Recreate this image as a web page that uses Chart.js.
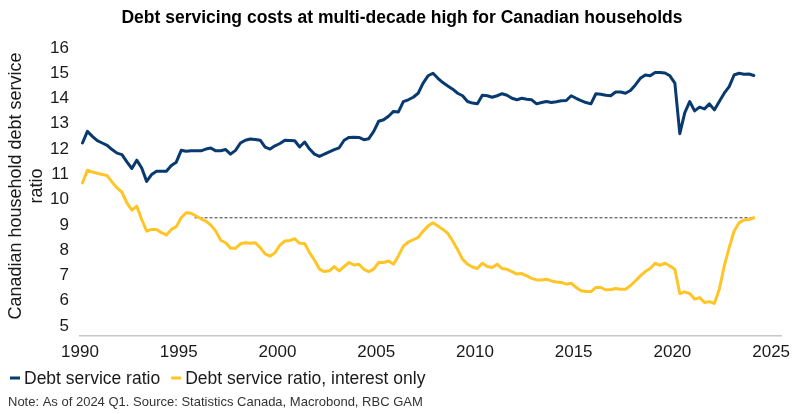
<!DOCTYPE html>
<html><head><meta charset="utf-8">
<script src="https://cdn.jsdelivr.net/npm/chart.js@4.4.1/dist/chart.umd.min.js"></script>
<style>html,body{margin:0;padding:0;background:#fff}</style>
</head><body>
<canvas id="c" width="799" height="414"></canvas>
<script>
const TITLE = 'Debt servicing costs at multi-decade high for Canadian households';
const Y_TITLE = ['Canadian household debt service', 'ratio'];
const NOTE = 'Note: As of 2024 Q1. Source: Statistics Canada, Macrobond, RBC GAM';
const SERIES_NAMES = ['Debt service ratio', 'Debt service ratio, interest only'];
const START_YEAR = 1990;            // first observation: 1990 Q1, quarterly data
const X_TICKS = [1990, 1995, 2000, 2005, 2010, 2015, 2020, 2025];
const Y_TICKS = [5, 6, 7, 8, 9, 10, 11, 12, 13, 14, 15, 16];
const REF_LINE_START = 1995.8;      // dotted line: latest interest-only level, drawn back to ~1996

const DSR = [
  12.24, 12.70, 12.50, 12.33,
  12.24, 12.15, 11.98, 11.84,
  11.78, 11.49, 11.23, 11.56,
  11.25, 10.72, 10.99, 11.12,
  11.12, 11.12, 11.35, 11.48,
  11.95, 11.91, 11.93, 11.93,
  11.93, 12.00, 12.04, 11.93,
  11.93, 11.98, 11.80, 11.95,
  12.24, 12.35, 12.40, 12.38,
  12.35, 12.08, 12.00, 12.13,
  12.22, 12.35, 12.34, 12.33,
  12.08, 12.28, 12.00, 11.80,
  11.71, 11.80, 11.89, 11.98,
  12.05, 12.35, 12.46, 12.47,
  12.46, 12.37, 12.41, 12.70,
  13.10, 13.16, 13.30, 13.49,
  13.47, 13.88, 13.95, 14.05,
  14.21, 14.61, 14.90, 15.00,
  14.80, 14.63, 14.50, 14.37,
  14.21, 14.11, 13.88, 13.82,
  13.79, 14.13, 14.11, 14.05,
  14.11, 14.19, 14.13, 14.01,
  13.95, 14.01, 13.97, 13.95,
  13.79, 13.84, 13.88, 13.84,
  13.87, 13.91, 13.92, 14.11,
  14.01, 13.92, 13.84, 13.79,
  14.19, 14.17, 14.13, 14.11,
  14.26, 14.26, 14.21, 14.32,
  14.54, 14.80, 14.93, 14.90,
  15.03, 15.03, 15.01, 14.90,
  14.61, 12.61, 13.43, 13.88,
  13.51, 13.66, 13.59, 13.79,
  13.55, 13.88, 14.21, 14.47,
  14.93, 15.00, 14.96, 14.97,
  14.91
];

const DSR_INTEREST = [
  10.66, 11.16, 11.09, 11.04,
  10.99, 10.95, 10.69, 10.46,
  10.29, 9.87, 9.58, 9.74,
  9.21, 8.75, 8.82, 8.82,
  8.69, 8.60, 8.82, 8.93,
  9.28, 9.48, 9.46, 9.35,
  9.24, 9.15, 8.99, 8.75,
  8.39, 8.29, 8.07, 8.07,
  8.25, 8.29, 8.27, 8.29,
  8.10, 7.85, 7.76, 7.90,
  8.20, 8.36, 8.38, 8.45,
  8.27, 8.26, 7.90, 7.60,
  7.25, 7.15, 7.18, 7.35,
  7.18, 7.35, 7.51, 7.41,
  7.44, 7.24, 7.15, 7.25,
  7.51, 7.51, 7.57, 7.44,
  7.77, 8.16, 8.32, 8.41,
  8.50, 8.75, 8.95, 9.08,
  8.95, 8.82, 8.66, 8.36,
  8.01, 7.64, 7.44, 7.33,
  7.27, 7.48, 7.35, 7.31,
  7.44, 7.27, 7.24, 7.15,
  7.05, 7.07, 6.98, 6.88,
  6.82, 6.82, 6.85, 6.78,
  6.74, 6.72, 6.65, 6.69,
  6.52, 6.39, 6.36, 6.36,
  6.52, 6.52, 6.43, 6.43,
  6.48, 6.45, 6.45, 6.59,
  6.78, 6.98, 7.15, 7.27,
  7.48, 7.40, 7.48, 7.37,
  7.24, 6.28, 6.35, 6.28,
  6.06, 6.12, 5.93, 5.96,
  5.89, 6.45, 7.37, 8.10,
  8.75, 9.08, 9.19, 9.21,
  9.28
];

const COLORS = { dsr: '#083A70', interest: '#FFC527', ref: '#3a3a3a', text: '#1a1a1a', axis: '#c8c8c8' };
const FONT = "'Liberation Sans', Arial, Helvetica, sans-serif";

// quarter positions (mid-quarter)
const toPoints = arr => arr.map((v, i) => ({ x: START_YEAR + i / 4 + 0.125, y: v }));
const dsrPts = toPoints(DSR);
const intPts = toPoints(DSR_INTEREST);
const lastInt = intPts[intPts.length - 1];
const refPts = [{ x: REF_LINE_START, y: lastInt.y }, { x: lastInt.x, y: lastInt.y }];

const textDecor = {
  id: 'textDecor',
  afterDraw(chart) {
    const ctx = chart.ctx;
    ctx.save();
    // title
    ctx.textAlign = 'center';
    ctx.textBaseline = 'middle';
    ctx.fillStyle = '#000';
    ctx.font = 'bold 17.5px ' + FONT;
    ctx.fillText(TITLE, 402, 18);
    // y-axis title (rotated, two lines)
    ctx.font = '18px ' + FONT;
    ctx.fillStyle = COLORS.text;
    Y_TITLE.forEach((line, i) => {
      ctx.save();
      ctx.translate(16 + i * 21, 186);
      ctx.rotate(-Math.PI / 2);
      ctx.fillText(line, 0, 0);
      ctx.restore();
    });
    // legend
    ctx.textAlign = 'left';
    ctx.font = '17.5px ' + FONT;
    let x = 10;
    const y = 378;
    chart.data.datasets.forEach(ds => {
      if (!ds.inLegend) return;
      ctx.fillStyle = ds.borderColor;
      ctx.fillRect(x, y - 1.5, 10, 3);
      x += 14;
      ctx.fillStyle = COLORS.text;
      ctx.fillText(ds.label, x, y + 1);
      x += ctx.measureText(ds.label).width + 11;
    });
    // note
    ctx.font = '13px ' + FONT;
    ctx.fillStyle = '#333333';
    ctx.fillText(NOTE, 8, 402);
    ctx.restore();
  }
};

new Chart(document.getElementById('c'), {
  type: 'line',
  data: {
    datasets: [
      { label: SERIES_NAMES[0], inLegend: true, data: dsrPts, borderColor: COLORS.dsr, borderWidth: 3,
        pointRadius: 0, tension: 0, borderJoinStyle: 'round', borderCapStyle: 'round' },
      { label: SERIES_NAMES[1], inLegend: true, data: intPts, borderColor: COLORS.interest, borderWidth: 3,
        pointRadius: 0, tension: 0, borderJoinStyle: 'round', borderCapStyle: 'round' },
      { label: 'ref', inLegend: false, data: refPts, borderColor: COLORS.ref, borderWidth: 1,
        borderDash: [3, 2], pointRadius: 0 }
    ]
  },
  options: {
    responsive: false,
    animation: false,
    devicePixelRatio: 1,
    layout: { padding: { top: 48, right: 18, bottom: 52, left: 0 } },
    plugins: {
      legend: { display: false },
      tooltip: { enabled: false },
      title: { display: false }
    },
    scales: {
      x: {
        type: 'linear', min: 1990, max: 2025.5,
        afterBuildTicks: s => { s.ticks = X_TICKS.map(v => ({ value: v })); },
        afterFit: s => { s.height = 26; },
        ticks: { color: COLORS.text, font: { family: FONT, size: 17 }, padding: 6, maxRotation: 0,
          callback: v => String(v) },
        grid: { display: false, drawTicks: false },
        border: { display: true, color: COLORS.axis, width: 1.5 }
      },
      y: {
        min: 4.6, max: 16,
        afterBuildTicks: s => { s.ticks = Y_TICKS.map(v => ({ value: v })); },
        afterFit: s => { s.width = 80; },
        ticks: { color: COLORS.text, font: { family: FONT, size: 17 }, padding: 11, callback: v => String(v) },
        grid: { display: false, drawTicks: false },
        border: { display: false }
      }
    }
  },
  plugins: [textDecor]
});
</script>
</body></html>
